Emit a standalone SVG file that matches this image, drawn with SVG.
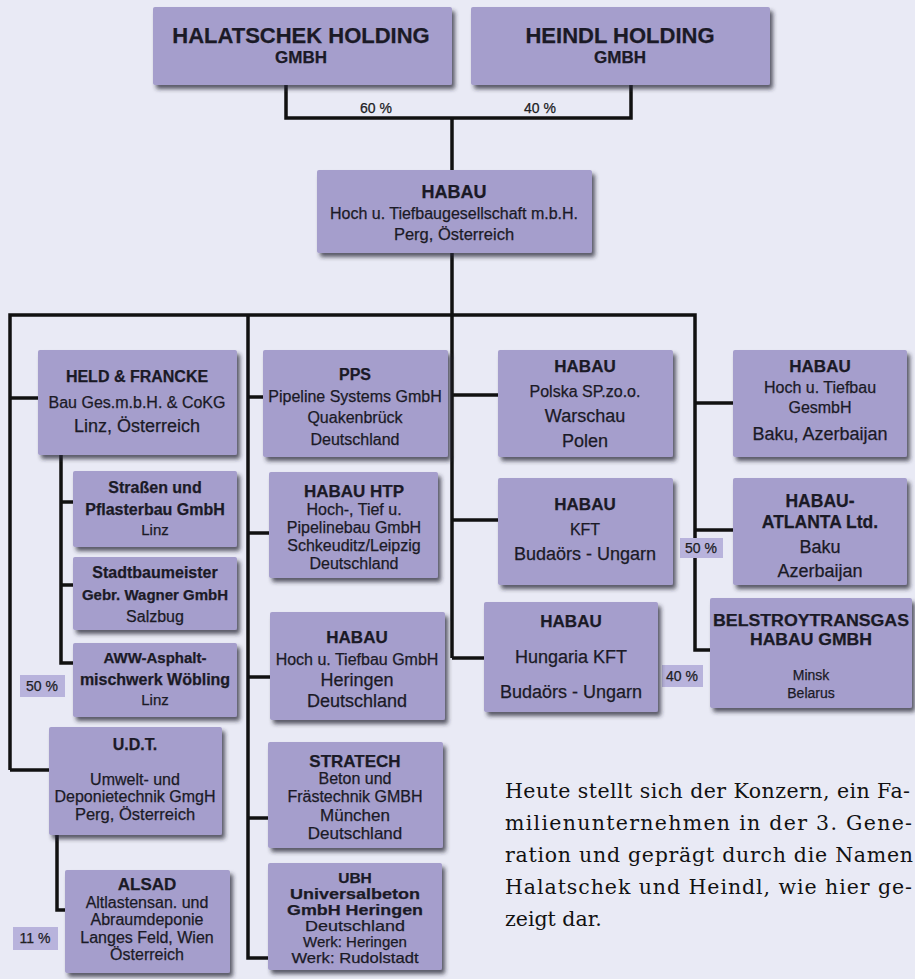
<svg xmlns="http://www.w3.org/2000/svg" width="915" height="979" viewBox="0 0 915 979">
<defs>
<filter id="sh" x="-10%" y="-10%" width="130%" height="130%">
<feDropShadow dx="3" dy="4" stdDeviation="2" flood-color="#2a2a35" flood-opacity="0.75"/>
</filter>
</defs>
<style>
.bg{fill:#e9eaf5}
.box{fill:#a59ecc;filter:url(#sh)}
.lab{fill:#b8b3dc}
.ln{fill:none;stroke:#111;stroke-width:3.5;stroke-linejoin:miter}
text{font-family:"Liberation Sans",Arial,sans-serif;fill:#1b1a26;text-anchor:middle;stroke:#1b1a26;stroke-width:0.25}
.t{font-weight:bold;font-size:17px}
.b{font-size:16px}
.l{font-size:18px}
.pc{font-size:14px;fill:#222}
.p{font-family:"DejaVu Serif","Liberation Serif",serif;font-size:20.5px;text-anchor:start;fill:#111;stroke:none}
</style>
<rect class="bg" x="0" y="0" width="915" height="979"/>

<g id="connectors">
<polyline class="ln" points="286,85 286,118 631,118 631,85"/>
<line class="ln" x1="452" y1="118" x2="452" y2="658"/>
<polyline class="ln" points="10,770 10,315 695,315 695,650 710,650"/>
<line class="ln" x1="10" y1="398" x2="38" y2="398"/>
<polyline class="ln" points="248,315 248,958 268,958"/>
<line class="ln" x1="248" y1="397" x2="263" y2="397"/>
<line class="ln" x1="248" y1="533" x2="269" y2="533"/>
<line class="ln" x1="248" y1="677" x2="270" y2="677"/>
<line class="ln" x1="248" y1="818" x2="268" y2="818"/>
<polyline class="ln" points="61,455 61,663 73,663"/>
<line class="ln" x1="61" y1="502" x2="73" y2="502"/>
<line class="ln" x1="61" y1="585" x2="73" y2="585"/>
<line class="ln" x1="10" y1="770" x2="49" y2="770"/>
<polyline class="ln" points="57,835 57,910 65,910"/>
<line class="ln" x1="452" y1="395" x2="498" y2="395"/>
<line class="ln" x1="452" y1="520" x2="498" y2="520"/>
<line class="ln" x1="452" y1="658" x2="484" y2="658"/>
<line class="ln" x1="695" y1="403" x2="733" y2="403"/>
<line class="ln" x1="695" y1="530" x2="733" y2="530"/>
<text class="pc" x="376" y="113">60 %</text>
<text class="pc" x="540" y="113">40 %</text>
<rect class="lab" x="20" y="675" width="45" height="22"/>
<text class="pc" x="42" y="691">50 %</text>
<rect class="lab" x="680" y="538" width="43" height="20"/>
<text class="pc" x="701" y="553">50 %</text>
<rect class="lab" x="662" y="665" width="41" height="22"/>
<text class="pc" x="682" y="681">40 %</text>
<rect class="lab" x="13" y="927" width="45" height="23"/>
<text class="pc" x="35" y="943">11 %</text>
</g>

<g id="halatschek">
<rect class="box" x="153" y="7" width="299" height="78" rx="2"/>
<text x="301" y="43" style="font-weight:bold;font-size:22px">HALATSCHEK HOLDING</text>
<text x="301" y="63" style="font-weight:bold;font-size:17px">GMBH</text>
</g>
<g id="heindl">
<rect class="box" x="471" y="7" width="299" height="78" rx="2"/>
<text x="620" y="43" style="font-weight:bold;font-size:22px">HEINDL HOLDING</text>
<text x="620" y="63" style="font-weight:bold;font-size:17px">GMBH</text>
</g>
<g id="habau-main">
<rect class="box" x="317" y="170" width="275" height="83" rx="2"/>
<text class="t" x="454" y="198" style="font-size:18px">HABAU</text>
<text class="b" x="454" y="219">Hoch u. Tiefbaugesellschaft m.b.H.</text>
<text class="b" x="454" y="240" style="font-size:16.5px">Perg, Österreich</text>
</g>

<g id="held">
<rect class="box" x="38" y="350" width="199" height="105" rx="2"/>
<text class="t" x="137" y="382" style="font-size:16px">HELD &amp; FRANCKE</text>
<text class="b" x="137" y="408">Bau Ges.m.b.H. &amp; CoKG</text>
<text class="l" x="137" y="432">Linz, Österreich</text>
</g>
<g id="strassen">
<rect class="box" x="73" y="471" width="164" height="76" rx="2"/>
<text class="t" x="155" y="493" style="font-size:16px">Straßen und</text>
<text class="t" x="155" y="515" style="font-size:16px">Pflasterbau GmbH</text>
<text class="b" x="155" y="535" style="font-size:15px">Linz</text>
</g>
<g id="stadtbaumeister">
<rect class="box" x="73" y="557" width="164" height="73" rx="2"/>
<text class="t" x="155" y="578" style="font-size:16px">Stadtbaumeister</text>
<text class="t" x="155" y="600" style="font-size:15px">Gebr. Wagner GmbH</text>
<text class="b" x="155" y="622">Salzbug</text>
</g>
<g id="aww">
<rect class="box" x="73" y="643" width="164" height="74" rx="2"/>
<text class="t" x="155" y="663" style="font-size:15px">AWW-Asphalt-</text>
<text class="t" x="155" y="685" style="font-size:16px">mischwerk Wöbling</text>
<text class="b" x="155" y="705" style="font-size:15px">Linz</text>
</g>
<g id="udt">
<rect class="box" x="49" y="727" width="173" height="108" rx="2"/>
<text class="t" x="135" y="750" style="font-size:16px">U.D.T.</text>
<text class="b" x="135" y="785">Umwelt- und</text>
<text class="b" x="135" y="802">Deponietechnik GmgH</text>
<text class="b" x="135" y="820" style="font-size:16.5px">Perg, Österreich</text>
</g>
<g id="alsad">
<rect class="box" x="65" y="870" width="165" height="103" rx="2"/>
<text class="t" x="147" y="890">ALSAD</text>
<text class="b" x="147" y="908">Altlastensan. und</text>
<text class="b" x="147" y="925">Abraumdeponie</text>
<text class="b" x="147" y="943">Langes Feld, Wien</text>
<text class="b" x="147" y="960">Österreich</text>
</g>

<g id="pps">
<rect class="box" x="263" y="350" width="185" height="107" rx="2"/>
<text class="t" x="355" y="380" style="font-size:16px">PPS</text>
<text class="b" x="355" y="402">Pipeline Systems GmbH</text>
<text class="b" x="355" y="423">Quakenbrück</text>
<text class="b" x="355" y="445">Deutschland</text>
</g>
<g id="habau-htp">
<rect class="box" x="269" y="472" width="169" height="106" rx="2"/>
<text class="t" x="354" y="497">HABAU HTP</text>
<text class="b" x="354" y="515">Hoch-, Tief u.</text>
<text class="b" x="354" y="533">Pipelinebau GmbH</text>
<text class="b" x="354" y="551">Schkeuditz/Leipzig</text>
<text class="b" x="354" y="569">Deutschland</text>
</g>
<g id="habau-heringen">
<rect class="box" x="270" y="612" width="175" height="108" rx="2"/>
<text class="t" x="357" y="643">HABAU</text>
<text class="b" x="357" y="665">Hoch u. Tiefbau GmbH</text>
<text class="l" x="357" y="686">Heringen</text>
<text class="l" x="357" y="707">Deutschland</text>
</g>
<g id="stratech">
<rect class="box" x="268" y="742" width="175" height="106" rx="2"/>
<text class="t" x="355" y="767" style="font-size:17px">STRATECH</text>
<text class="b" x="355" y="784">Beton und</text>
<text class="b" x="355" y="802">Frästechnik GMBH</text>
<text class="l" x="355" y="821" style="font-size:17px">München</text>
<text class="l" x="355" y="839" style="font-size:17px">Deutschland</text>
</g>
<g id="ubh">
<rect class="box" x="268" y="863" width="174" height="107" rx="2"/>
<text class="t" x="355" y="883" style="font-size:15.5px">UBH</text>
<text class="t" x="355" y="899" style="font-size:15.5px" textLength="130" lengthAdjust="spacingAndGlyphs">Universalbeton</text>
<text class="t" x="355" y="915" style="font-size:15.5px" textLength="136" lengthAdjust="spacingAndGlyphs">GmbH Heringen</text>
<text class="b" x="355" y="931" style="font-size:15.5px" textLength="100" lengthAdjust="spacingAndGlyphs">Deutschland</text>
<text class="b" x="355" y="947" style="font-size:15px">Werk: Heringen</text>
<text class="b" x="355" y="963" style="font-size:15px" textLength="127" lengthAdjust="spacingAndGlyphs">Werk: Rudolstadt</text>
</g>

<g id="habau-polska">
<rect class="box" x="498" y="350" width="175" height="107" rx="2"/>
<text class="t" x="585" y="372">HABAU</text>
<text class="b" x="585" y="397">Polska SP.zo.o.</text>
<text class="l" x="585" y="422">Warschau</text>
<text class="l" x="585" y="447">Polen</text>
</g>
<g id="habau-kft">
<rect class="box" x="498" y="478" width="175" height="107" rx="2"/>
<text class="t" x="585" y="510">HABAU</text>
<text class="b" x="585" y="535">KFT</text>
<text class="l" x="585" y="560">Budaörs - Ungarn</text>
</g>
<g id="habau-hungaria">
<rect class="box" x="484" y="602" width="174" height="110" rx="2"/>
<text class="t" x="571" y="627">HABAU</text>
<text class="l" x="571" y="663">Hungaria KFT</text>
<text class="l" x="571" y="698">Budaörs - Ungarn</text>
</g>
<g id="habau-baku">
<rect class="box" x="733" y="350" width="174" height="107" rx="2"/>
<text class="t" x="820" y="372">HABAU</text>
<text class="b" x="820" y="393">Hoch u. Tiefbau</text>
<text class="b" x="820" y="413">GesmbH</text>
<text class="l" x="820" y="440">Baku, Azerbaijan</text>
</g>
<g id="habau-atlanta">
<rect class="box" x="733" y="478" width="174" height="107" rx="2"/>
<text class="t" x="820" y="507" style="font-size:17.5px">HABAU-</text>
<text class="t" x="820" y="528" style="font-size:17.5px">ATLANTA Ltd.</text>
<text class="l" x="820" y="553">Baku</text>
<text class="l" x="820" y="577">Azerbaijan</text>
</g>
<g id="belstroytransgas">
<rect class="box" x="710" y="598" width="202" height="110" rx="2"/>
<text class="t" x="811" y="626" style="font-size:16px" textLength="196" lengthAdjust="spacingAndGlyphs">BELSTROYTRANSGAS</text>
<text class="t" x="811" y="645" style="font-size:16px" textLength="122" lengthAdjust="spacingAndGlyphs">HABAU GMBH</text>
<text class="b" x="811" y="680" style="font-size:14px">Minsk</text>
<text class="b" x="811" y="698" style="font-size:14px">Belarus</text>
</g>

<g id="paragraph">
<text class="p" x="505" y="798" textLength="405" lengthAdjust="spacing">Heute stellt sich der Konzern, ein Fa-</text>
<text class="p" x="505" y="830" textLength="407" lengthAdjust="spacing">milienunternehmen in der 3. Gene-</text>
<text class="p" x="505" y="862" textLength="408" lengthAdjust="spacing">ration und geprägt durch die Namen</text>
<text class="p" x="505" y="894" textLength="407" lengthAdjust="spacing">Halatschek und Heindl, wie hier ge-</text>
<text class="p" x="505" y="926">zeigt dar.</text>
</g>
</svg>
